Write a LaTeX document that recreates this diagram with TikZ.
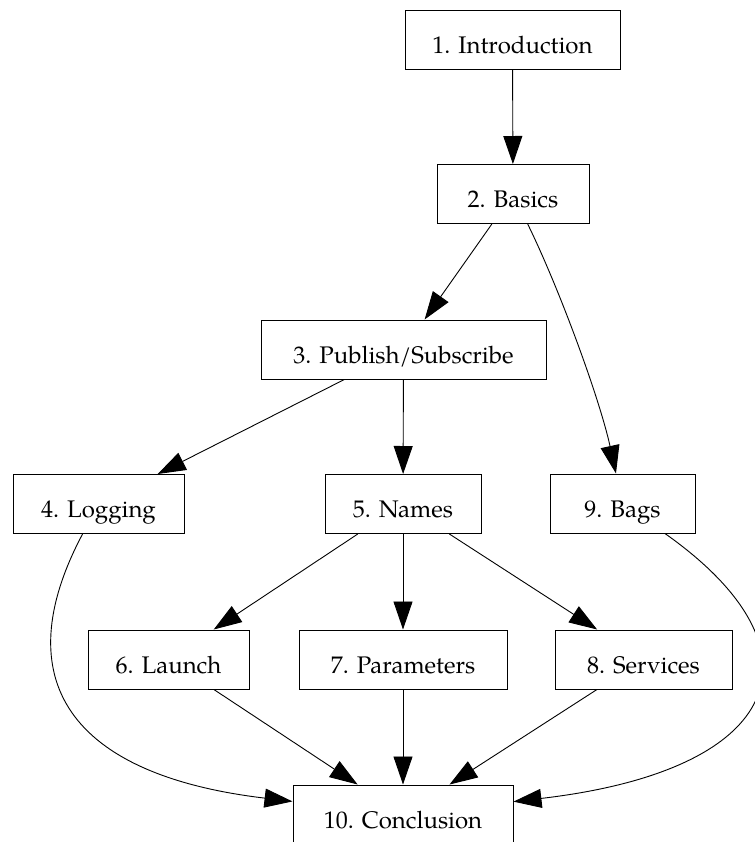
\documentclass[tikz,border=0pt]{standalone}
\usepackage{fontspec}
\setmainfont{TeX Gyre Pagella}
\usepackage{tikz}
\usetikzlibrary{arrows.meta}

\tikzset{
    chapter/.style={draw, line width=0.5pt, rectangle, inner sep=0pt,
        minimum height=29.5pt, text height=13.5pt, text depth=0pt,
        font=\fontsize{12}{14}\selectfont},
    dep/.style={line width=0.45pt, -{Triangle[length=14pt, width=9.5pt]}}
}

\begin{document}
\begin{tikzpicture}[x=1pt, y=-1pt, scale=0.5]
        \useasboundingbox (0, 0) rectangle (755, 842);
        \node[chapter, minimum width=107.5pt] (intro)    at (512.5,  39.5) {1. Introduction};
        \node[chapter, minimum width= 76.0pt] (basics)   at (513.0, 194.0) {2. Basics};
        \node[chapter, minimum width=142.5pt] (pubsub)   at (403.5, 349.5) {3. Publish/Subscribe};
        \node[chapter, minimum width= 85.5pt] (logging)  at ( 98.5, 504.0) {4. Logging};
        \node[chapter, minimum width= 78.0pt] (names)    at (403.0, 504.0) {5. Names};
        \node[chapter, minimum width= 80.5pt] (launch)   at (168.5, 659.5) {6. Launch};
        \node[chapter, minimum width=104.0pt] (params)   at (403.0, 659.5) {7. Parameters};
        \node[chapter, minimum width= 88.5pt] (services) at (643.5, 659.5) {8. Services};
        \node[chapter, minimum width= 72.5pt] (bags)     at (622.5, 503.5) {9. Bags};
        \node[chapter, minimum width=110.0pt] (concl)    at (403.0, 814.5) {10. Conclusion};
        \draw[dep] (intro) -- (basics);
        \draw[dep] (basics) -- (pubsub);
        \draw[dep] (basics) .. controls (560, 290) and (600, 400) .. (bags);
        \draw[dep] (pubsub) -- (logging);
        \draw[dep] (pubsub) -- (names);
        \draw[dep] (names) -- (launch);
        \draw[dep] (names) -- (params);
        \draw[dep] (names) -- (services);
        \draw[dep] (logging) .. controls (5, 680) and (70, 775) .. (concl);
        \draw[dep] (launch) -- (concl);
        \draw[dep] (params) -- (concl);
        \draw[dep] (services) -- (concl);
        \draw[dep] (bags) .. controls (830, 650) and (785, 770) .. (concl);
        %
    \end{tikzpicture}
\end{document}
